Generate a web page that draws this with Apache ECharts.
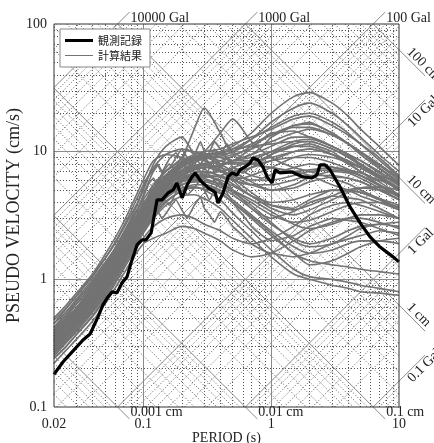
<!DOCTYPE html>
<html>
<head>
<meta charset="utf-8">
<script src="https://cdn.jsdelivr.net/npm/echarts@6/dist/echarts.min.js"></script>
<style>
  html, body { margin: 0; padding: 0; background: #fff; }
  #chart { width: 434px; height: 443px; }
</style>
</head>
<body>
<div id="chart"></div>
<script>
// Axis ranges and tick labels
const periodRange = [0.02, 10];
const velocityRange = [0.1, 100];
const periodTicks = [0.02, 0.1, 1, 10];
const velocityTicks = [0.1, 1, 10, 100];

// Tripartite reference lines that carry a label
const topAccel = [10000, 1000, 100];     // Gal
const rightAccel = [10, 1, 0.1];         // Gal
const rightDisp = [100, 10, 1];          // cm
const bottomDisp = [0.001, 0.01, 0.1];   // cm

// Observed record: period (s) and pseudo velocity (cm/s)
const obsPeriod = [0.020, 0.0235, 0.0282, 0.0337, 0.0383, 0.0442, 0.0483, 0.0529, 0.0569, 0.0622,
  0.0681, 0.0745, 0.0815, 0.0892, 0.0977, 0.105, 0.115, 0.121, 0.128, 0.140,
  0.156, 0.171, 0.183, 0.201, 0.220, 0.240, 0.254, 0.277, 0.321, 0.364,
  0.384, 0.420, 0.460, 0.494, 0.541, 0.570, 0.624, 0.684, 0.722, 0.789,
  0.863, 0.929, 1.016, 1.072, 1.173, 1.456, 1.775, 2.09, 2.28, 2.41,
  2.64, 2.89, 3.46, 4.14, 4.96, 5.94, 7.11, 8.99, 10.0];
const obsVelocity = [0.18, 0.225, 0.275, 0.335, 0.373, 0.508, 0.631, 0.728, 0.797, 0.783,
  0.938, 1.045, 1.42, 1.86, 2.04, 2.04, 2.31, 3.08, 4.19, 4.19,
  4.75, 5.01, 5.69, 4.34, 5.48, 6.34, 6.81, 6.0, 5.20, 4.83,
  3.96, 4.75, 6.34, 6.81, 6.57, 7.19, 7.59, 8.16, 8.93, 8.61,
  7.59, 6.34, 5.69, 7.19, 6.81, 6.93, 6.34, 6.22, 6.57, 7.87,
  7.87, 7.19, 5.29, 3.69, 2.77, 2.15, 1.79, 1.50, 1.37];

// Period grid (s) of the smoother computed spectra
const periods = [0.02, 0.025, 0.03, 0.04, 0.05, 0.06, 0.07, 0.08, 0.1, 0.12,
  0.15, 0.2, 0.25, 0.3, 0.4, 0.5, 0.7, 1, 1.5, 2, 3, 4, 5, 7, 10];

// Computed spectra (cm/s), one value per period above
const calc01 = [0.40, 0.50, 0.60, 0.85, 1.20, 1.60, 2.10, 2.60, 3.80, 5.00, 6.50, 8.00, 9.00, 9.50, 10.0, 11.0, 14.0, 20.0, 27.0, 29.0, 24.0, 19.0, 15.0, 11.0, 7.8];
const calc02 = [0.35, 0.44, 0.54, 0.78, 1.10, 1.45, 1.90, 2.40, 3.40, 4.60, 6.00, 7.20, 8.20, 8.80, 9.20, 10.0, 12.5, 17.0, 22.0, 24.0, 20.0, 16.0, 13.0, 9.5, 7.0];
const calc03 = [0.45, 0.56, 0.68, 0.95, 1.30, 1.75, 2.30, 2.90, 4.20, 5.50, 7.00, 8.50, 9.50, 10.0, 10.5, 11.5, 13.0, 15.0, 18.0, 19.0, 16.0, 13.5, 11.5, 9.0, 6.5];
const calc04 = [0.38, 0.48, 0.58, 0.82, 1.15, 1.55, 2.00, 2.60, 3.80, 5.20, 7.00, 9.00, 15.0, 22.0, 14.0, 9.5, 8.0, 7.5, 7.0, 6.5, 5.5, 5.0, 4.5, 4.0, 3.5];
const calc05 = [0.33, 0.42, 0.50, 0.70, 1.00, 1.35, 1.80, 2.30, 3.40, 4.60, 6.20, 8.00, 9.00, 10.0, 14.0, 18.0, 12.0, 9.0, 7.5, 7.0, 6.2, 5.6, 5.0, 4.3, 3.6];
const calc06 = [0.42, 0.52, 0.64, 0.90, 1.25, 1.70, 2.30, 3.00, 5.00, 8.00, 11.0, 13.0, 9.5, 8.5, 8.0, 8.5, 9.0, 10.0, 11.0, 11.0, 9.5, 8.0, 7.0, 5.8, 4.6];
const calc07 = [0.30, 0.38, 0.46, 0.65, 0.90, 1.20, 1.55, 1.95, 2.90, 3.90, 5.20, 6.50, 7.20, 7.50, 7.80, 8.50, 9.50, 11.0, 13.0, 13.0, 11.0, 9.5, 8.0, 6.5, 5.0];
const calc08 = [0.28, 0.35, 0.43, 0.60, 0.82, 1.10, 1.45, 1.80, 2.70, 3.60, 4.80, 6.00, 6.50, 6.80, 7.00, 7.50, 8.50, 10.0, 12.0, 12.5, 11.0, 9.5, 8.5, 7.0, 5.5];
const calc09 = [0.32, 0.40, 0.50, 0.70, 0.97, 1.30, 1.70, 2.20, 3.20, 4.30, 5.60, 6.80, 7.50, 8.00, 7.50, 7.00, 7.50, 8.50, 10.0, 10.5, 9.5, 8.5, 7.5, 6.2, 5.0];
const calc10 = [0.36, 0.45, 0.55, 0.77, 1.05, 1.40, 1.85, 2.40, 3.50, 4.70, 6.00, 7.50, 8.50, 9.00, 8.50, 8.00, 8.00, 8.50, 9.00, 9.00, 8.2, 7.3, 6.5, 5.5, 4.5];
const calc11 = [0.26, 0.33, 0.40, 0.56, 0.78, 1.05, 1.35, 1.70, 2.50, 3.30, 4.40, 5.50, 6.00, 6.30, 6.50, 7.00, 8.00, 9.50, 11.5, 12.0, 10.5, 9.0, 7.8, 6.3, 5.0];
const calc12 = [0.34, 0.43, 0.52, 0.74, 1.00, 1.35, 1.75, 2.25, 3.30, 4.40, 5.80, 7.00, 7.60, 7.80, 7.20, 6.50, 6.00, 6.00, 6.50, 7.0, 7.2, 7.0, 6.5, 5.5, 4.5];
const calc13 = [0.29, 0.37, 0.45, 0.63, 0.87, 1.15, 1.50, 1.90, 2.80, 3.80, 5.00, 6.20, 6.80, 7.00, 6.50, 6.00, 5.50, 5.50, 6.00, 6.5, 6.5, 6.2, 5.8, 5.0, 4.2];
const calc14 = [0.31, 0.39, 0.47, 0.66, 0.92, 1.22, 1.60, 2.05, 3.00, 4.00, 5.40, 6.60, 7.30, 7.50, 7.80, 8.20, 8.00, 7.50, 7.00, 7.2, 7.5, 7.2, 6.8, 6.0, 5.2];
const calc15 = [0.37, 0.47, 0.57, 0.80, 1.10, 1.50, 1.95, 2.50, 3.60, 4.90, 6.30, 7.80, 8.80, 9.20, 9.00, 9.50, 10.5, 12.0, 14.0, 15.0, 13.5, 11.5, 10.0, 8.0, 6.2];
const calc16 = [0.27, 0.34, 0.42, 0.58, 0.80, 1.08, 1.40, 1.78, 2.60, 3.50, 4.60, 5.80, 6.30, 6.60, 6.30, 6.00, 6.50, 7.50, 9.00, 9.5, 9.0, 8.2, 7.5, 6.5, 5.8];
const calc17 = [0.25, 0.32, 0.39, 0.55, 0.75, 1.00, 1.30, 1.65, 2.40, 3.10, 4.00, 5.00, 5.50, 5.50, 5.00, 4.20, 3.20, 2.40, 1.80, 1.6, 1.7, 1.9, 2.0, 2.0, 1.9];
const calc18 = [0.30, 0.38, 0.46, 0.64, 0.88, 1.17, 1.50, 1.90, 2.80, 3.70, 4.80, 5.80, 6.00, 5.60, 4.80, 4.00, 3.00, 2.20, 1.60, 1.3, 1.4, 1.6, 1.8, 2.0, 2.1];
const calc19 = [0.27, 0.35, 0.42, 0.59, 0.82, 1.08, 1.40, 1.75, 2.50, 3.30, 4.30, 5.20, 5.30, 5.00, 4.20, 3.30, 2.40, 1.70, 1.20, 1.05, 1.0, 0.95, 0.9, 0.85, 0.8];
const calc20 = [0.33, 0.42, 0.51, 0.72, 0.98, 1.30, 1.70, 2.15, 3.10, 4.10, 5.30, 6.30, 6.50, 6.20, 5.50, 4.80, 3.80, 2.80, 2.00, 1.8, 1.9, 2.2, 2.5, 2.7, 2.8];
const calc21 = [0.24, 0.30, 0.37, 0.52, 0.72, 0.95, 1.25, 1.58, 2.30, 3.00, 3.80, 4.50, 4.60, 4.30, 3.60, 2.90, 2.10, 1.50, 1.10, 1.0, 0.9, 0.85, 0.8, 0.78, 0.75];
const calc22 = [0.29, 0.37, 0.44, 0.62, 0.85, 1.12, 1.45, 1.85, 2.60, 3.50, 4.50, 5.50, 5.80, 5.80, 5.30, 4.60, 3.60, 2.70, 2.10, 1.9, 2.1, 2.4, 2.6, 2.7, 2.6];
const calc23 = [0.31, 0.40, 0.48, 0.68, 0.93, 1.23, 1.60, 2.00, 2.90, 3.90, 5.10, 6.00, 6.30, 6.00, 5.60, 5.00, 4.20, 3.40, 2.70, 2.5, 2.7, 3.0, 3.2, 3.2, 3.0];
const calc24 = [0.26, 0.33, 0.40, 0.57, 0.78, 1.03, 1.33, 1.70, 2.40, 3.20, 4.10, 4.90, 5.20, 5.10, 4.70, 4.00, 3.10, 2.30, 1.60, 1.4, 1.3, 1.25, 1.2, 1.15, 1.1];
const calc25 = [0.35, 0.44, 0.54, 0.75, 1.03, 1.37, 1.80, 2.30, 3.30, 4.50, 5.80, 7.20, 7.80, 8.00, 7.20, 6.20, 4.80, 3.80, 3.50, 3.8, 4.5, 5.0, 5.2, 5.0, 4.6];
const calc26 = [0.32, 0.41, 0.49, 0.69, 0.95, 1.26, 1.65, 2.10, 3.10, 4.10, 5.40, 6.60, 7.00, 7.00, 6.40, 5.60, 4.50, 3.60, 3.20, 3.5, 4.2, 4.8, 5.2, 5.3, 5.0];
const calc27 = [0.28, 0.36, 0.43, 0.61, 0.84, 1.10, 1.45, 1.85, 2.70, 3.60, 4.70, 5.80, 6.20, 6.40, 6.00, 5.40, 4.50, 4.00, 4.20, 4.6, 5.0, 5.0, 4.8, 4.3, 3.8];
const calc28 = [0.38, 0.48, 0.58, 0.82, 1.12, 1.50, 1.95, 2.50, 3.70, 5.00, 6.50, 8.20, 9.00, 9.00, 8.00, 7.00, 5.80, 5.00, 5.20, 5.8, 6.3, 6.2, 5.8, 5.0, 4.2];
const calc29 = [0.30, 0.38, 0.46, 0.65, 0.89, 1.18, 1.55, 1.95, 2.85, 3.80, 5.00, 6.10, 6.50, 6.50, 5.80, 5.00, 4.00, 3.20, 2.80, 2.9, 3.4, 3.8, 4.0, 4.0, 3.7];
const calc30 = [0.34, 0.43, 0.52, 0.73, 1.00, 1.33, 1.72, 2.20, 3.20, 4.30, 5.60, 6.90, 7.40, 7.60, 7.00, 6.40, 5.50, 5.00, 5.50, 6.3, 7.0, 6.8, 6.2, 5.2, 4.2];
const calc31 = [0.22, 0.28, 0.34, 0.47, 0.64, 0.85, 1.10, 1.38, 1.90, 2.10, 2.30, 2.60, 2.50, 2.30, 2.00, 1.70, 1.50, 1.60, 2.00, 2.4, 2.8, 3.0, 3.0, 2.8, 2.5];
const calc32 = [0.24, 0.30, 0.37, 0.51, 0.70, 0.92, 1.20, 1.50, 2.10, 2.60, 3.00, 3.20, 3.00, 2.70, 2.40, 2.10, 1.90, 2.10, 2.60, 3.2, 3.8, 4.0, 3.8, 3.4, 3.0];
const calc33 = [0.36, 0.46, 0.56, 0.78, 1.07, 1.42, 1.85, 2.35, 3.45, 4.70, 6.10, 7.60, 8.60, 9.30, 9.80, 10.5, 12.5, 15.5, 19.0, 20.0, 17.0, 14.0, 11.5, 8.6, 6.3];
const calc34 = [0.33, 0.42, 0.51, 0.71, 0.97, 1.30, 1.70, 2.15, 3.15, 4.25, 5.50, 6.90, 7.60, 8.10, 8.50, 9.20, 11.0, 13.5, 16.0, 16.5, 14.0, 11.5, 9.5, 7.4, 5.6];
const calc35 = [0.39, 0.49, 0.60, 0.84, 1.15, 1.53, 2.00, 2.55, 3.75, 5.10, 6.60, 8.30, 9.20, 9.60, 9.50, 10.0, 11.5, 13.5, 15.5, 15.5, 13.5, 11.5, 9.8, 7.8, 6.0];
const calc36 = [0.48, 0.60, 0.74, 1.05, 1.45, 1.95, 2.60, 3.40, 5.50, 7.50, 9.50, 10.5, 10.0, 9.50, 9.00, 8.50, 8.50, 9.00, 10.0, 10.5, 9.5, 8.5, 7.5, 6.2, 5.0];
const calc37 = [0.50, 0.63, 0.78, 1.10, 1.55, 2.10, 2.80, 3.70, 6.00, 8.50, 9.50, 9.00, 8.50, 8.80, 9.50, 10.5, 11.0, 11.5, 12.0, 12.0, 10.5, 9.2, 8.0, 6.5, 5.2];

// Period grid (s) of the more irregular computed spectra
const periodsFine = [0.02, 0.03, 0.04, 0.05, 0.06, 0.07, 0.08, 0.09, 0.1, 0.11,
  0.12, 0.13, 0.14, 0.16, 0.18, 0.2, 0.22, 0.25, 0.28, 0.3,
  0.33, 0.36, 0.4, 0.45, 0.5, 0.6, 0.7, 0.85, 1, 1.5, 2, 3, 5, 7, 10];
const calcJ1 = [0.42, 0.70, 1.00, 1.35, 1.75, 2.3, 2.9, 3.6, 4.4, 5.6, 6.2, 5.4, 6.8, 8.0, 7.0, 8.5, 7.5, 9.0, 8.0, 8.8, 7.8, 8.5, 7.2, 6.5, 7.5, 6.8, 7.5, 8.5, 9.5, 11, 11.5, 10, 7, 5.5, 4.5];
const calcJ2 = [0.36, 0.60, 0.88, 1.20, 1.55, 2.0, 2.5, 3.1, 3.8, 4.6, 5.5, 6.0, 5.2, 6.5, 7.5, 6.2, 7.0, 8.2, 7.0, 6.2, 7.5, 9.0, 8.0, 6.5, 6.0, 5.0, 4.5, 4.0, 3.8, 3.6, 4.2, 5.0, 4.8, 4.2, 3.5];
const calcJ3 = [0.30, 0.52, 0.76, 1.05, 1.35, 1.7, 2.1, 2.6, 3.2, 3.6, 4.2, 5.0, 4.4, 3.8, 4.8, 5.5, 4.6, 5.2, 6.0, 5.0, 4.2, 5.0, 5.8, 4.8, 4.0, 3.2, 2.6, 2.2, 2.0, 2.2, 2.6, 3.0, 2.8, 2.5, 2.2];
const calcJ4 = [0.45, 0.74, 1.08, 1.45, 1.90, 2.5, 3.2, 4.0, 5.2, 6.4, 7.2, 8.0, 7.0, 8.8, 9.8, 8.5, 10.5, 9.5, 12, 10, 9.0, 10.5, 9.5, 11.5, 10, 9.0, 9.5, 11, 13, 16, 17, 14, 10, 7.5, 5.8];
const calcJ5 = [0.33, 0.56, 0.80, 1.10, 1.42, 1.8, 2.25, 2.8, 3.4, 4.2, 4.8, 4.2, 5.2, 6.0, 5.0, 5.8, 6.8, 5.8, 6.5, 7.5, 6.5, 6.0, 5.2, 5.8, 5.0, 4.2, 3.6, 3.2, 3.0, 3.4, 4.0, 4.5, 4.2, 3.6, 3.0];
const calcJ6 = [0.38, 0.64, 0.92, 1.25, 1.62, 2.1, 2.7, 3.3, 4.0, 4.4, 5.0, 5.8, 6.5, 5.8, 6.8, 8.0, 7.2, 6.5, 7.8, 9.2, 8.0, 7.0, 7.8, 8.8, 7.6, 7.0, 6.5, 6.2, 6.6, 7.5, 8.0, 7.6, 6.5, 5.4, 4.4];
const calcJ7 = [0.28, 0.48, 0.70, 0.97, 1.25, 1.6, 2.0, 2.45, 3.0, 3.5, 3.9, 3.4, 3.0, 3.6, 4.2, 3.5, 3.0, 3.8, 4.4, 3.6, 3.2, 2.8, 3.4, 3.0, 2.6, 2.2, 1.9, 1.7, 1.6, 1.5, 1.6, 1.9, 2.2, 2.4, 2.3];
const calcJ8 = [0.40, 0.67, 0.96, 1.30, 1.70, 2.2, 2.8, 3.5, 4.6, 5.8, 7.0, 7.8, 6.8, 7.4, 9.0, 10.5, 9.0, 8.0, 9.5, 8.5, 10, 12, 10.5, 9.0, 8.5, 9.5, 10.5, 12.5, 14, 14.5, 13, 11, 8.5, 6.8, 5.4];

const calcSpectra = [calc01, calc02, calc03, calc04, calc05, calc06, calc07, calc08, calc09, calc10,
  calc11, calc12, calc13, calc14, calc15, calc16, calc17, calc18, calc19, calc20,
  calc21, calc22, calc23, calc24, calc25, calc26, calc27, calc28, calc29, calc30,
  calc31, calc32, calc33, calc34, calc35, calc36, calc37];
const calcSpectraFine = [calcJ1, calcJ2, calcJ3, calcJ4, calcJ5, calcJ6, calcJ7, calcJ8];

const OBS_NAME = '観測記録';
const CALC_NAME = '計算結果';
const SERIF = 'Liberation Serif';
const TWO_PI = 2 * Math.PI;
const [TMIN, TMAX] = periodRange;
const [VMIN, VMAX] = velocityRange;

// ---- grid segments (vertical, horizontal and tripartite diagonals) ----
const majorSegs = [];
const minorSegs = [];
function addSeg(mult, p1, p2) {
  (mult === 1 ? majorSegs : minorSegs).push({ coords: [p1, p2] });
}
function nice(v) { return Number(v.toPrecision(4)); }
for (let e = -2; e <= 1; e++) {
  for (let m = 1; m <= 9; m++) {
    const t = nice(m * Math.pow(10, e));
    if (t > TMIN * 1.0001 && t < TMAX * 0.9999) addSeg(m, [t, VMIN], [t, VMAX]);
  }
}
for (let e = -1; e <= 2; e++) {
  for (let m = 1; m <= 9; m++) {
    const v = nice(m * Math.pow(10, e));
    if (v > VMIN * 1.0001 && v < VMAX * 0.9999) addSeg(m, [TMIN, v], [TMAX, v]);
  }
}
// constant acceleration: V = a T / 2pi
for (let e = -2; e <= 5; e++) {
  for (let m = 1; m <= 9; m++) {
    const k = nice(m * Math.pow(10, e)) / TWO_PI;
    const t1 = Math.max(TMIN, VMIN / k), t2 = Math.min(TMAX, VMAX / k);
    if (t2 > t1 * 1.001) addSeg(m, [t1, k * t1], [t2, k * t2]);
  }
}
// constant displacement: V = 2pi D / T
for (let e = -4; e <= 2; e++) {
  for (let m = 1; m <= 9; m++) {
    const c = nice(m * Math.pow(10, e)) * TWO_PI;
    const t1 = Math.max(TMIN, c / VMAX), t2 = Math.min(TMAX, c / VMIN);
    if (t2 > t1 * 1.001) addSeg(m, [t1, c / t1], [t2, c / t2]);
  }
}

// leader lines running from the frame out to the labels
const EXT = 1.24;
const leaderSegs = [];
topAccel.forEach(a => { const k = a / TWO_PI; leaderSegs.push({ coords: [[VMAX / k, VMAX], [VMAX * EXT / k, VMAX * EXT]] }); });
bottomDisp.forEach(d => { const c = d * TWO_PI; leaderSegs.push({ coords: [[c / VMIN, VMIN], [c * EXT / VMIN, VMIN / EXT]] }); });
rightAccel.forEach(a => { const k = a / TWO_PI; leaderSegs.push({ coords: [[TMAX, k * TMAX], [TMAX * 1.6, k * TMAX * 1.6]] }); });
rightDisp.forEach(d => { const c = d * TWO_PI; leaderSegs.push({ coords: [[TMAX, c / TMAX], [TMAX * 1.6, c / (TMAX * 1.6)]] }); });

function tickText(v) { return String(Number(v.toPrecision(2))); }

const series = [
  {
    type: 'lines', coordinateSystem: 'cartesian2d', data: minorSegs, silent: true, z: 1,
    lineStyle: { color: '#555', width: 1, type: [1, 2], opacity: 1 }, animation: false
  },
  {
    type: 'lines', coordinateSystem: 'cartesian2d', data: majorSegs, silent: true, z: 1,
    lineStyle: { color: '#8a8a8a', width: 1, type: 'solid', opacity: 1 }, animation: false
  },
  {
    type: 'lines', coordinateSystem: 'cartesian2d', data: leaderSegs, silent: true, z: 1, clip: false,
    lineStyle: { color: '#8a8a8a', width: 1, type: 'solid', opacity: 1 }, animation: false
  }
];
function addCalc(ts, vals, smooth) {
  series.push({
    name: CALC_NAME, type: 'line', z: 2, symbol: 'none', smooth: smooth, animation: false, silent: true,
    lineStyle: { color: '#737373', width: 1.6 }, itemStyle: { color: '#737373' },
    data: ts.map((t, i) => [t, vals[i]])
  });
}
calcSpectra.forEach(vals => addCalc(periods, vals, 0.25));
calcSpectraFine.forEach(vals => addCalc(periodsFine, vals, 0.1));
series.push({
  name: OBS_NAME, type: 'line', z: 3, symbol: 'none', animation: false, silent: true,
  lineStyle: { color: '#000', width: 3.2 }, itemStyle: { color: '#000' },
  data: obsPeriod.map((t, i) => [t, obsVelocity[i]])
});

const chart = echarts.init(document.getElementById('chart'), null, { renderer: 'canvas' });
chart.setOption({
  animation: false,
  backgroundColor: '#fff',
  textStyle: { fontFamily: SERIF },
  grid: { left: 54, top: 24, width: 345, height: 383, outerBoundsMode: 'none', containLabel: false,
    show: true, borderColor: '#333', borderWidth: 1, backgroundColor: 'transparent', z: 4 },
  legend: {
    data: [
      { name: OBS_NAME, icon: 'path://M0,0H28V3H0Z' },
      { name: CALC_NAME, icon: 'path://M0,0H28V1H0Z' }
    ],
    orient: 'vertical', left: 60, top: 29,
    backgroundColor: '#fff', borderColor: '#888', borderWidth: 1, padding: [6, 8, 6, 5],
    itemWidth: 28, itemHeight: 10, itemGap: 4, selectedMode: false, symbolKeepAspect: true,
    textStyle: { fontFamily: 'Noto Sans CJK JP', fontSize: 11, color: '#222' }
  },
  xAxis: {
    type: 'log', logBase: 10, min: TMIN, max: TMAX,
    name: 'PERIOD (s)', nameLocation: 'middle', nameGap: 24, nameMoveOverlap: false,
    nameTextStyle: { fontFamily: SERIF, fontSize: 14, color: '#222' },
    axisLine: { show: false }, axisTick: { show: false }, splitLine: { show: false },
    axisLabel: { fontFamily: SERIF, fontSize: 14, color: '#222', margin: 10, showMinLabel: true, showMaxLabel: true,
      formatter: v => tickText(v) }
  },
  yAxis: {
    type: 'log', logBase: 10, min: VMIN, max: VMAX,
    name: 'PSEUDO VELOCITY (cm/s)', nameLocation: 'middle', nameGap: 31, nameRotate: 90, nameMoveOverlap: false,
    nameTextStyle: { fontFamily: SERIF, fontSize: 18, color: '#222' },
    axisLine: { show: false }, axisTick: { show: false }, splitLine: { show: false },
    axisLabel: { fontFamily: SERIF, fontSize: 14, color: '#222', margin: 7, showMinLabel: true, showMaxLabel: true,
      formatter: v => tickText(v) }
  },
  series: series
});

// Labels of the tripartite lines, placed from data coordinates
const px = p => chart.convertToPixel({ gridIndex: 0 }, p);
const labelStyle = { fontFamily: SERIF, fontSize: 14, fill: '#222' };
const graphics = [];
topAccel.forEach(a => {
  const k = a / TWO_PI;
  const p = px([VMAX * EXT / k, VMAX * EXT]);
  graphics.push({ type: 'text', x: p[0] + 1, y: p[1] + 6, z: 10,
    style: Object.assign({ text: a + ' Gal', align: 'left', verticalAlign: 'middle' }, labelStyle) });
});
bottomDisp.forEach(d => {
  const c = d * TWO_PI;
  const p = px([c * EXT / VMIN, VMIN / EXT]);
  graphics.push({ type: 'text', x: p[0] + 1, y: p[1] - 7, z: 10,
    style: Object.assign({ text: d + ' cm', align: 'left', verticalAlign: 'middle' }, labelStyle) });
});
rightAccel.forEach(a => {
  const k = a / TWO_PI;
  const p = px([TMAX, k * TMAX]);
  graphics.push({ type: 'text', x: p[0] + 6, y: p[1] - 6, rotation: Math.PI / 4, z: 10,
    style: Object.assign({ text: a + ' Gal', align: 'left', verticalAlign: 'top' }, labelStyle) });
});
rightDisp.forEach(d => {
  const c = d * TWO_PI;
  const p = px([TMAX, c / TMAX]);
  graphics.push({ type: 'text', x: p[0] + 5, y: p[1] + 5, rotation: -Math.PI / 4, z: 10,
    style: Object.assign({ text: d + ' cm', align: 'left', verticalAlign: 'bottom' }, labelStyle) });
});
chart.setOption({ graphic: graphics });
</script>
</body>
</html>
